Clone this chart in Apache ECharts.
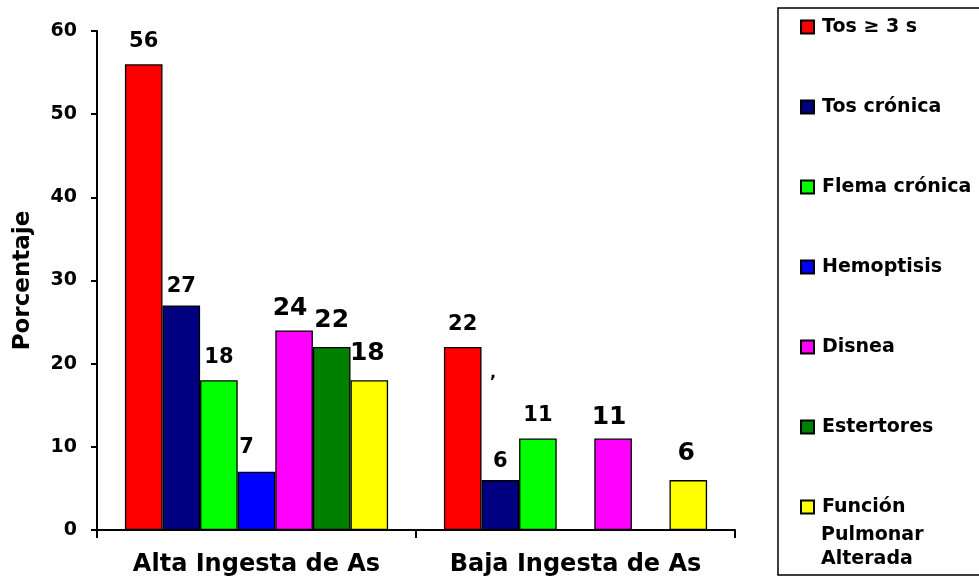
<!DOCTYPE html>
<html>
<head>
<meta charset="utf-8">
<script src="https://cdn.jsdelivr.net/npm/echarts@6/dist/echarts.min.js"></script>
<style>
  html, body { margin: 0; padding: 0; background: #fff; }
  #chart { width: 979px; height: 580px; }
</style>
</head>
<body>
<div id="chart"></div>
<script>
// grupos y síntomas
const categories = ['Alta Ingesta de As', 'Baja Ingesta de As']
const seriesNames = ['Tos ≥ 3 s', 'Tos crónica', 'Flema crónica', 'Hemoptisis', 'Disnea', 'Estertores', 'Función Pulmonar Alterada']
const seriesColors = ['#FF0000', '#000080', '#00FF00', '#0000FF', '#FF00FF', '#008000', '#FFFF00']

// porcentajes por síntoma (Alta, Baja)
const tosTres = [56, 22]
const tosCronica = [27, 6]
const flemaCronica = [18, 11]
const hemoptisis = [7, null]
const disnea = [24, 11]
const estertores = [22, null]
const funcionPulmonar = [18, 6]

const yTicks = { min: 0, max: 60, interval: 10 }

const values = [tosTres, tosCronica, flemaCronica, hemoptisis, disnea, estertores, funcionPulmonar]
// estilo de etiqueta por serie: [tamaño, distancia, desplazamiento x]
const labelStyle = [
  [21, 12, 0],
  [21, 8, 0],
  [21, 12, 0],
  [21, 14, -10],
  [25, 9, -4],
  [25, 14, 0],
  [25, 14, -2]
]

const font = 'DejaVu Sans'
const dom = document.getElementById('chart')
const chart = echarts.init(dom)

let series = seriesNames.map((name, i) => ({
  name: name,
  type: 'bar',
  data: values[i],
  barGap: '0%',
  barCategoryGap: '17.5%',
  itemStyle: {
    color: seriesColors[i],
    borderColor: '#000',
    borderWidth: 1.3
  },
  label: {
    show: true,
    position: 'top',
    distance: labelStyle[i][1],
    offset: [labelStyle[i][2], 0],
    color: '#000',
    fontFamily: font,
    fontWeight: 'bold',
    fontSize: labelStyle[i][0]
  }
}))

let option = {
  backgroundColor: '#fff',
  animation: false,
  grid: {
    left: 97,
    right: 244,
    top: 31,
    bottom: 50
  },
  legend: {
    orient: 'vertical',
    left: 800,
    top: 16,
    padding: 0,
    itemGap: 58,
    itemWidth: 13,
    itemHeight: 13,
    icon: 'rect',
    data: seriesNames,
    formatter: function (name) {
      // las otras dos líneas van como texto aparte
      return name === 'Función Pulmonar Alterada' ? 'Función' : name
    },
    textStyle: {
      color: '#000',
      fontFamily: font,
      fontWeight: 'bold',
      fontSize: 19,
      lineHeight: 22,
      padding: [0, 0, 0, 3]
    }
  },
  graphic: [
    {
      type: 'rect',
      shape: { x: 778, y: 8, width: 210, height: 567 },
      style: { fill: 'none', stroke: '#000', lineWidth: 1.5 },
      silent: true
    },
    {
      type: 'text',
      x: 821,
      y: 523,
      style: {
        text: 'Pulmonar\nAlterada',
        fill: '#000',
        font: 'bold 19px "DejaVu Sans"',
        lineHeight: 24,
        verticalAlign: 'top'
      },
      silent: true
    },
    {
      type: 'text',
      x: 490,
      y: 366,
      style: { text: ',', fill: '#000', font: 'bold 16px "DejaVu Sans"' },
      silent: true
    }
  ],
  xAxis: {
    type: 'category',
    data: categories,
    axisLine: { lineStyle: { color: '#000', width: 2 } },
    axisTick: { show: true, length: 8, lineStyle: { color: '#000', width: 2 } },
    axisLabel: {
      interval: 0,
      hideOverlap: false,
      showMaxLabel: true,
      margin: 23,
      color: '#000',
      fontFamily: font,
      fontWeight: 'bold',
      fontSize: 24
    }
  },
  yAxis: {
    type: 'value',
    min: yTicks.min,
    max: yTicks.max,
    interval: yTicks.interval,
    name: 'Porcentaje',
    nameLocation: 'middle',
    nameGap: 62,
    nameTextStyle: {
      color: '#000',
      fontFamily: font,
      fontWeight: 'bold',
      fontSize: 23
    },
    axisLine: { show: true, lineStyle: { color: '#000', width: 2 } },
    axisTick: { show: true, length: 6, lineStyle: { color: '#000', width: 2 } },
    splitLine: { show: false },
    axisLabel: {
      margin: 20,
      color: '#000',
      fontFamily: font,
      fontWeight: 'bold',
      fontSize: 19
    }
  },
  series: series
}

chart.setOption(option)
window.addEventListener('resize', () => chart.resize())
</script>
</body>
</html>
